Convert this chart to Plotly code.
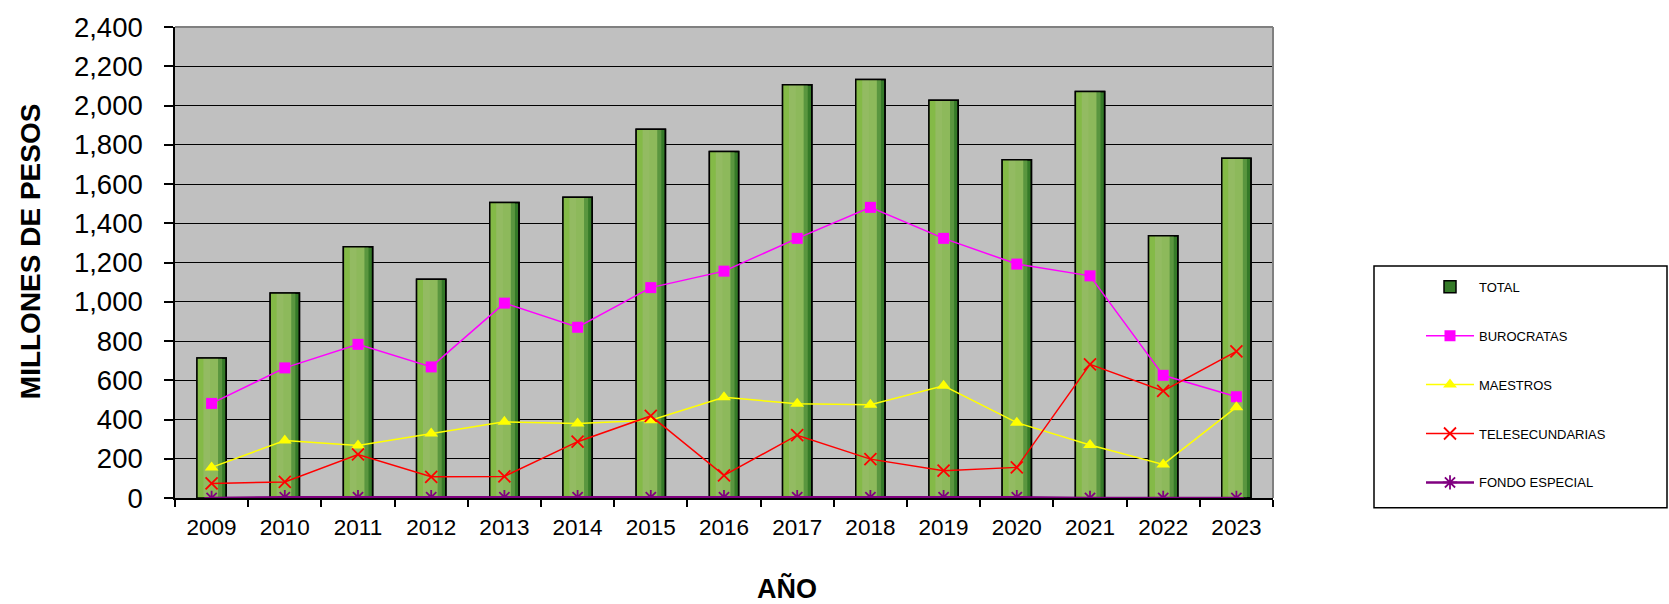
import plotly.graph_objects as go

years = ["2009", "2010", "2011", "2012", "2013", "2014", "2015", "2016",
         "2017", "2018", "2019", "2020", "2021", "2022", "2023"]
total = [713, 1045, 1280, 1115, 1506, 1533, 1879, 1766, 2106, 2132, 2027, 1723, 2071, 1336, 1731]
burocratas = [482, 663, 783, 668, 993, 870, 1072, 1156, 1323, 1481, 1323, 1192, 1132, 625, 516]
maestros = [156, 293, 268, 329, 388, 379, 396, 513, 480, 475, 572, 384, 270, 171, 463]
telesecundarias = [74, 82, 222, 108, 110, 287, 418, 115, 320, 198, 139, 156, 681, 546, 747]
fondo_especial = [0, 4, 4, 4, 4, 4, 4, 4, 4, 4, 4, 4, 0, 0, 0]

FONT = "Liberation Sans, Arial, sans-serif"
W, H = 1669, 604
L, R, T, B = 175, 1273, 19, 498
PW, PH = R - L, B - T


def px(x):
    return (x - L) / PW


def py(y):
    return (B - y) / PH


BW = 0.4
fig = go.Figure()
# bar body (legend entry)
fig.add_trace(go.Bar(x=years, y=total, name="TOTAL", width=BW,
                     marker=dict(color="#357a28", line=dict(color="black", width=1.5)),
                     legendgroup="g1"))
# lighter shading layers to mimic the gradient
for frac, col in [(0.86, "#5a963f"), (0.72, "#8db95b"), (0.45, "#93bb62"), (0.22, "#84ba47")]:
    fig.add_trace(go.Bar(x=years, y=total, width=BW * frac, offset=-BW / 2,
                         marker=dict(color=col, line=dict(width=0)),
                         showlegend=False, hoverinfo="skip", legendgroup="g1"))
# outline on top
fig.add_trace(go.Bar(x=years, y=total, width=BW,
                     marker=dict(color="rgba(0,0,0,0)", line=dict(color="black", width=1.5)),
                     showlegend=False, hoverinfo="skip", legendgroup="g1"))

fig.add_trace(go.Scatter(x=years, y=burocratas, name="BUROCRATAS", mode="lines+markers",
                         line=dict(color="#FF00FF", width=1.5),
                         marker=dict(symbol="square", size=11, color="#FF00FF"),
                         legendgroup="g2"))
fig.add_trace(go.Scatter(x=years, y=maestros, name="MAESTROS", mode="lines+markers",
                         line=dict(color="#FFFF00", width=1.5),
                         marker=dict(symbol="triangle-up", size=12, color="#FFFF00"),
                         legendgroup="g3"))
fig.add_trace(go.Scatter(x=years, y=telesecundarias, name="TELESECUNDARIAS", mode="lines+markers",
                         line=dict(color="#FF0000", width=1.5),
                         marker=dict(symbol="x-thin", size=12, color="#FF0000",
                                     line=dict(color="#FF0000", width=1.8)),
                         legendgroup="g4"))
fig.add_trace(go.Scatter(x=years, y=fondo_especial, name="FONDO ESPECIAL", mode="lines+markers",
                         line=dict(color="#800080", width=2.5),
                         marker=dict(symbol="asterisk", size=12, color="#800080",
                                     line=dict(color="#800080", width=1.8)),
                         legendgroup="g5"))

fig.update_layout(
    width=W, height=H,
    margin=dict(l=L, r=W - R, t=T, b=H - B, pad=0),
    paper_bgcolor="white", plot_bgcolor="#C0C0C0",
    barmode="overlay",
    font=dict(family=FONT, color="black"),
    showlegend=True,
    legend=dict(x=px(1421), y=py(268), xanchor="left", yanchor="top",
                font=dict(family=FONT, size=13, color="black"),
                bgcolor="rgba(0,0,0,0)", borderwidth=0,
                traceorder="grouped", tracegroupgap=29, itemwidth=48),
    xaxis=dict(type="category", range=[-0.5, len(years) - 0.5], autorange=False,
               showline=True, linecolor="black", linewidth=1.5,
               ticks="outside", tickson="boundaries", ticklen=7, tickwidth=1.5,
               tickcolor="black", ticklabelstandoff=8,
               tickfont=dict(family=FONT, size=22.5, color="black"),
               showgrid=False, fixedrange=True),
    yaxis=dict(range=[0, 2400], dtick=200, tickformat=",d", showline=True,
               linecolor="black", linewidth=1.5, ticks="outside", ticklen=9,
               tickwidth=1.5, tickcolor="black", ticklabelstandoff=16,
               tickfont=dict(family=FONT, size=27.5, color="black"),
               showgrid=True, gridcolor="black", gridwidth=1.3, zeroline=False),
    shapes=[
        dict(type="line", xref="paper", yref="paper", x0=0, x1=1, y0=1, y1=1,
             line=dict(color="#808080", width=2), layer="above"),
        dict(type="line", xref="paper", yref="paper", x0=1, x1=1, y0=0, y1=1,
             line=dict(color="#808080", width=2), layer="above"),
        dict(type="rect", xref="paper", yref="paper", x0=px(1374), x1=px(1667),
             y0=py(508), y1=py(262), line=dict(color="black", width=1.5),
             fillcolor="rgba(0,0,0,0)", layer="above"),
    ],
    annotations=[
        dict(text="<b>MILLONES DE PESOS</b>", xref="paper", yref="paper",
             x=px(30), y=py(247), textangle=-90, showarrow=False,
             xanchor="center", yanchor="middle",
             font=dict(family=FONT, size=28, color="black")),
        dict(text="<b>AÑO</b>", xref="paper", yref="paper",
             x=px(787), y=py(590), showarrow=False,
             xanchor="center", yanchor="middle",
             font=dict(family=FONT, size=27, color="black")),
    ],
)

fig.write_html("out.html", config={"displayModeBar": False},
               post_script="document.body.style.margin='0';document.body.style.overflow='hidden';")
